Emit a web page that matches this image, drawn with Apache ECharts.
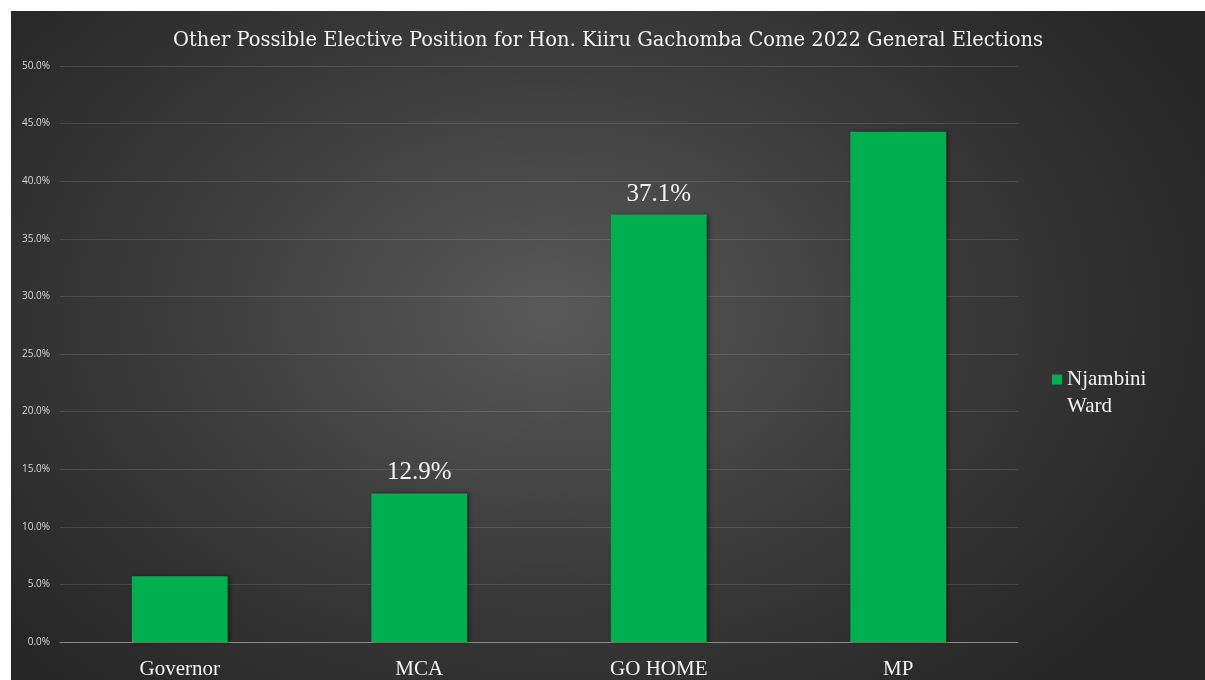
<!DOCTYPE html>
<html>
<head>
<meta charset="utf-8">
<script src="https://cdn.jsdelivr.net/npm/echarts@6/dist/echarts.min.js"></script>
<style>
html,body{margin:0;padding:0;background:#ffffff;width:1205px;height:680px;overflow:hidden;}
#chart{position:absolute;left:11px;top:11px;width:1194px;height:669px;
background:radial-gradient(ellipse 60% 75% at 45% 45%, #595959 0%, #3a3a3a 55%, #262626 100%);}
</style>
</head>
<body>
<div id="chart"></div>
<script>
const titleText = 'Other Possible Elective Position for Hon. Kiiru Gachomba Come 2022 General Elections';
const categories = ['Governor', 'MCA', 'GO HOME', 'MP'];
const seriesName = 'Njambini Ward';
const values = [5.7, 12.9, 37.1, 44.3];
const labelledIndices = [1, 2];
const yTicks = [0, 5, 10, 15, 20, 25, 30, 35, 40, 45, 50];

const chart = echarts.init(document.getElementById('chart'), null, {renderer: 'canvas'});
const serif = '"Liberation Serif", "DejaVu Serif", serif';

const data = values.map((v, i) => ({
  value: v,
  label: {show: labelledIndices.indexOf(i) >= 0}
}));

chart.setOption({
  backgroundColor: 'transparent',
  animation: false,
  title: {
    text: titleText,
    left: 'center',
    top: 15,
    textStyle: {color: '#f2f2f2', fontFamily: '"DejaVu Serif", serif', fontSize: 19.5, fontWeight: 'normal'}
  },
  legend: {
    data: [seriesName],
    orient: 'vertical',
    left: 1036,
    top: 323,
    icon: 'rect',
    itemWidth: 10,
    itemHeight: 10,
    itemGap: 6,
    formatter: n => '\n' + n.replace(' ', '\n'),
    textStyle: {color: '#f2f2f2', fontFamily: serif, fontSize: 21, lineHeight: 27}
  },
  grid: {left: 49, right: 187, top: 55, bottom: 38, containLabel: false},
  xAxis: {
    type: 'category',
    data: categories,
    axisLine: {lineStyle: {color: '#8a8a8a', width: 1}},
    axisTick: {show: false},
    axisLabel: {color: '#f2f2f2', fontFamily: serif, fontSize: 21, margin: 17}
  },
  yAxis: {
    type: 'value',
    min: yTicks[0],
    max: yTicks[yTicks.length - 1],
    interval: yTicks[1] - yTicks[0],
    axisLine: {show: false},
    axisTick: {show: false},
    splitLine: {lineStyle: {color: 'rgba(255,255,255,0.12)', width: 1}},
    axisLabel: {color: '#d9d9d9', fontFamily: '"Open Sans", "Noto Sans", sans-serif', fontSize: 10, margin: 10,
      formatter: v => v.toFixed(1) + '%'}
  },
  series: [{
    name: seriesName,
    type: 'bar',
    data: data,
    barWidth: '40%',
    itemStyle: {color: '#00b050', shadowColor: 'rgba(0,0,0,0.45)', shadowBlur: 4, shadowOffsetX: 2, shadowOffsetY: 0},
    label: {
      position: 'top',
      distance: 8,
      color: '#f2f2f2',
      fontFamily: serif,
      fontSize: 25,
      formatter: p => p.value.toFixed(1) + '%'
    }
  }]
});
</script>
</body>
</html>
